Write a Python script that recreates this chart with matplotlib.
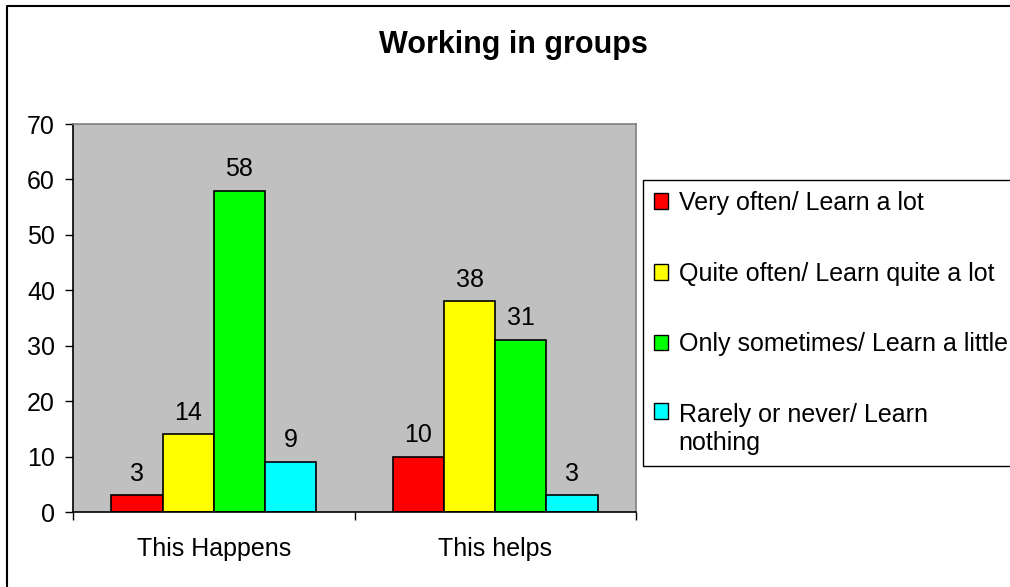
import matplotlib
matplotlib.use('Agg')
import matplotlib.pyplot as plt
from matplotlib.patches import Patch
from matplotlib.lines import Line2D
import numpy as np

plt.rcParams['font.family'] = ['Liberation Sans', 'DejaVu Sans']

# data
categories = ['This Happens', 'This helps']
series_names = ['Very often/ Learn a lot',
                'Quite often/ Learn quite a lot',
                'Only sometimes/ Learn a little',
                'Rarely or never/ Learn\nnothing']
series_values = [
    [3, 10],
    [14, 38],
    [58, 31],
    [9, 3],
]
series_colors = ['#FF0000', '#FFFF00', '#00FF00', '#00FFFF']
y_ticks = [0, 10, 20, 30, 40, 50, 60, 70]

W, H = 1010, 587
fs = 18
fig = plt.figure(figsize=(W / 100, H / 100), dpi=100)
fig.patch.set_facecolor('white')

ax = fig.add_axes([73 / W, 1 - 512 / H, (636 - 73) / W, (512 - 124) / H])
ax.set_facecolor('#C0C0C0')

x = np.arange(len(categories))
bar_w = 0.182
offsets = (np.arange(len(series_values)) - 1.5) * bar_w

for vals, name, col, off in zip(series_values, series_names, series_colors, offsets):
    bars = ax.bar(x + off, vals, width=bar_w, color=col, edgecolor='black',
                  linewidth=1.2, label=name, zorder=2)
    ax.bar_label(bars, padding=7, fontsize=fs)

ax.set_xlim(-0.5, len(categories) - 0.5)
ax.set_ylim(0, 70)
ax.set_yticks(y_ticks)
ax.set_xticks(x)
ax.set_xticklabels(categories)
ax.set_xticks(np.arange(len(categories) + 1) - 0.5, minor=True)
ax.tick_params(axis='x', which='major', length=0, pad=18, labelsize=fs)
ax.tick_params(axis='x', which='minor', length=6, width=1, direction='out')
ax.tick_params(axis='y', length=6, width=1, direction='out', pad=7, labelsize=fs)

for side in ['top', 'right']:
    ax.spines[side].set_color('#808080')
    ax.spines[side].set_linewidth(1.2)
for side in ['left', 'bottom']:
    ax.spines[side].set_color('black')
    ax.spines[side].set_linewidth(1.2)

fig.text(513 / W, 1 - 53 / H, 'Working in groups', fontsize=22, fontweight='bold',
         ha='center', va='baseline')

handles = [Patch(facecolor=c, edgecolor='black', linewidth=1) for c in series_colors]
leg = fig.legend(handles, series_names, loc='upper left',
                 bbox_to_anchor=(643 / W, 1 - 180 / H), bbox_transform=fig.transFigure,
                 borderaxespad=0, fontsize=fs, frameon=True, fancybox=False,
                 framealpha=1, edgecolor='black', labelspacing=1.87,
                 handlelength=0.56, handleheight=0.6, handletextpad=0.44,
                 borderpad=0.43)
leg.get_frame().set_linewidth(1)

# the two-line entry keeps its square at the first line
rows = leg._legend_handle_box.get_children()[0].get_children()
rows[-1].align = 'top'

# outer chart border (right and bottom edges run off the picture)
fig.lines.append(Line2D([6.5 / W, 6.5 / W, 1.1], [-0.1, 1 - 6 / H, 1 - 6 / H],
                        transform=fig.transFigure, color='black', linewidth=1.5))

fig.savefig('out.png', dpi=100)
